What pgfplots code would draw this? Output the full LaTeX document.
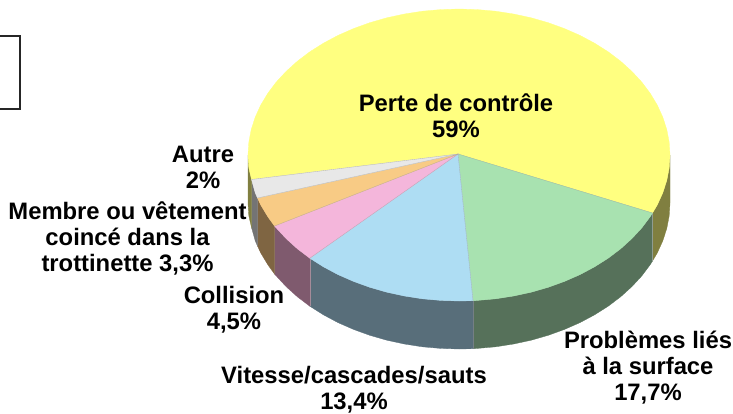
\documentclass[border=0pt]{standalone}
\usepackage{fontspec}
\setmainfont{Liberation Sans}
\usepackage{pgfplots}
\pgfplotsset{compat=1.18}
\definecolor{ytop}{HTML}{FFFF80}\definecolor{gtop}{HTML}{A8E2B0}\definecolor{btop}{HTML}{AEDDF3}
\definecolor{ptop}{HTML}{F4B6DB}\definecolor{otop}{HTML}{F8CB85}\definecolor{atop}{HTML}{E8E8E8}
\definecolor{yside}{HTML}{807F40}\definecolor{gside}{HTML}{56715A}\definecolor{bside}{HTML}{586E7A}
\definecolor{pside}{HTML}{7F5A6E}\definecolor{oside}{HTML}{7F6542}\definecolor{aside}{HTML}{747474}
\tikzset{lbl/.style={font=\fontsize{23.8}{26.1}\selectfont\bfseries,align=center,inner sep=0pt,text=black}}
\begin{document}
\begin{tikzpicture}
\path[use as bounding box] (0,0) rectangle (733pt,413pt);
\begin{axis}[at={(0,0)},anchor=south west,scale only axis,width=733pt,height=413pt,
  xmin=0,xmax=733,ymin=0,ymax=413,y dir=reverse,axis lines=none,clip=true]
% side walls
\addplot[fill=yside,draw=yside,line width=.3pt] coordinates {(670,155)(669.2,167.7)(666.8,180.4)(662.8,192.8)(657.3,204.9)(652.5,213)(652.5,261)(657.3,252.9)(662.8,240.8)(666.8,228.4)(669.2,215.7)(670,203)} --cycle;
\addplot[fill=gside,draw=gside,line width=.3pt] coordinates {(652.5,213)(650.2,216.7)(641.7,228)(631.8,238.7)(620.6,248.8)(608.2,258.2)(594.6,266.8)(580,274.6)(564.5,281.4)(548.2,287.3)(531.2,292.2)(513.6,296)(495.6,298.8)(477.4,300.4)(473,300.7)(473,348.7)(477.4,348.4)(495.6,346.8)(513.6,344)(531.2,340.2)(548.2,335.3)(564.5,329.4)(580,322.6)(594.6,314.8)(608.2,306.2)(620.6,296.8)(631.8,286.7)(641.7,276)(650.2,264.7)(652.5,261)} --cycle;
\addplot[fill=bside,draw=bside,line width=.3pt] coordinates {(473,300.7)(459,301)(440.6,300.4)(422.4,298.8)(404.4,296)(386.8,292.2)(369.8,287.3)(353.5,281.4)(338,274.6)(323.4,266.8)(309.8,258.2)(309.8,306.2)(323.4,314.8)(338,322.6)(353.5,329.4)(369.8,335.3)(386.8,340.2)(404.4,344)(422.4,346.8)(440.6,348.4)(459,349)(473,348.7)} --cycle;
\addplot[fill=pside,draw=pside,line width=.3pt] coordinates {(309.8,258.2)(297.4,248.8)(286.2,238.7)(276.3,228)(274.5,226)(274.5,274)(276.3,276)(286.2,286.7)(297.4,296.8)(309.8,306.2)} --cycle;
\addplot[fill=oside,draw=oside,line width=.3pt] coordinates {(274.5,226)(267.8,216.7)(260.7,204.9)(257.5,198)(257.5,246)(260.7,252.9)(267.8,264.7)(274.5,274)} --cycle;
\addplot[fill=aside,draw=aside,line width=.3pt] coordinates {(257.5,198)(255.2,192.8)(251.5,179.5)(251.5,227.5)(255.2,240.8)(257.5,246)} --cycle;
\addplot[fill=yside,draw=yside,line width=.3pt] coordinates {(251.5,179.5)(248.8,167.7)(248,155)(248,203)(248.8,215.7)(251.5,227.5)} --cycle;
% side edges
\addplot[draw=black!35!bside!70!white,line width=.4pt] coordinates {(473,300.7)(473,348.7)};
\addplot[draw=black!20!gside!60!white,line width=.4pt] coordinates {(652.5,213)(652.5,261)};
\addplot[draw=pside!70!white,line width=.4pt] coordinates {(309.8,258.2)(309.8,306.2)};
% top faces
\addplot[fill=ytop,draw=ytop,line width=.3pt] coordinates {(458,154)(251.5,179.5)(248.8,167.7)(248,155)(248.8,142.3)(251.2,129.6)(255.2,117.2)(260.7,105.1)(267.8,93.3)(276.3,82)(286.2,71.3)(297.4,61.2)(309.8,51.8)(323.4,43.2)(338,35.4)(353.5,28.6)(369.8,22.7)(386.8,17.8)(404.4,14)(422.4,11.2)(440.6,9.6)(459,9)(477.4,9.6)(495.6,11.2)(513.6,14)(531.2,17.8)(548.2,22.7)(564.5,28.6)(580,35.4)(594.6,43.2)(608.2,51.8)(620.6,61.2)(631.8,71.3)(641.7,82)(650.2,93.3)(657.3,105.1)(662.8,117.2)(666.8,129.6)(669.2,142.3)(670,155)(669.2,167.7)(666.8,180.4)(662.8,192.8)(657.3,204.9)(652.5,213)} --cycle;
\addplot[fill=gtop,draw=gtop,line width=.3pt] coordinates {(458,154)(652.5,213)(650.2,216.7)(641.7,228)(631.8,238.7)(620.6,248.8)(608.2,258.2)(594.6,266.8)(580,274.6)(564.5,281.4)(548.2,287.3)(531.2,292.2)(513.6,296)(495.6,298.8)(477.4,300.4)(473,300.7)} --cycle;
\addplot[fill=btop,draw=btop,line width=.3pt] coordinates {(458,154)(473,300.7)(459,301)(440.6,300.4)(422.4,298.8)(404.4,296)(386.8,292.2)(369.8,287.3)(353.5,281.4)(338,274.6)(323.4,266.8)(309.8,258.2)} --cycle;
\addplot[fill=ptop,draw=ptop,line width=.3pt] coordinates {(458,154)(309.8,258.2)(297.4,248.8)(286.2,238.7)(276.3,228)(274.5,226)} --cycle;
\addplot[fill=otop,draw=otop,line width=.3pt] coordinates {(458,154)(274.5,226)(267.8,216.7)(260.7,204.9)(257.5,198)} --cycle;
\addplot[fill=atop,draw=atop,line width=.3pt] coordinates {(458,154)(257.5,198)(255.2,192.8)(251.5,179.5)} --cycle;
% separators
\addplot[draw=black!40,line width=.35pt,opacity=.6] coordinates {(251.5,179.5)(458,154)(652.5,213)};
\addplot[draw=black!40,line width=.35pt,opacity=.6] coordinates {(257.5,198)(458,154)(274.5,226)};
\addplot[draw=black!40,line width=.35pt,opacity=.6] coordinates {(309.8,258.2)(458,154)(473,300.7)};
% frame
\addplot[draw=black!85,line width=1.5pt] coordinates {(-5,36)(20,36)(20,109)(-5,109)};
% labels
\node[lbl] at (axis cs:456,115.5) {Perte de contrôle\\59\%};
\node[lbl] at (axis cs:203,167.5) {Autre\\2\%};
\node[lbl] at (axis cs:127.5,238.5) {Membre ou vêtement\\coincé dans la\\trottinette 3,3\%};
\node[lbl] at (axis cs:234,309.5) {Collision\\4,5\%};
\node[lbl] at (axis cs:354,389.5) {Vitesse/cascades/sauts\\13,4\%};
\node[lbl] at (axis cs:648,367.5) {Problèmes liés\\à la surface\\17,7\%};
\end{axis}
\end{tikzpicture}
\end{document}
